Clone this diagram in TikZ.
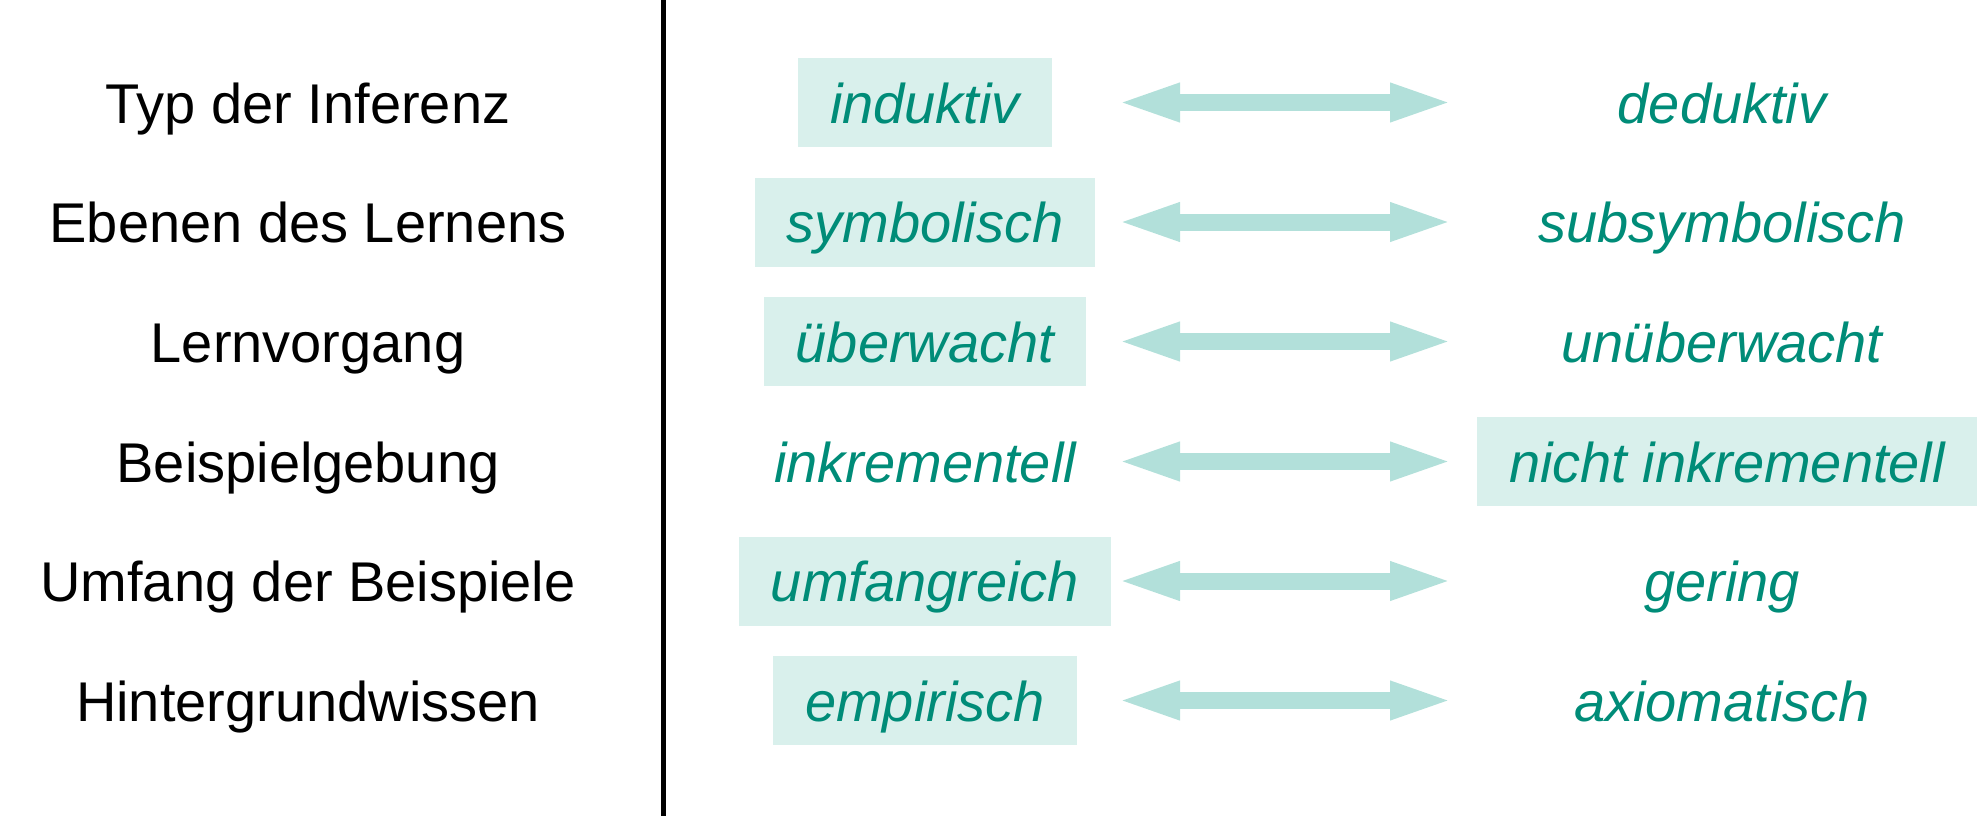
\documentclass[tikz,border=0pt]{standalone}
\usepackage{fontspec}
\setmainfont{Liberation Sans}
\usetikzlibrary{arrows.meta,positioning}
\definecolor{lernGreen}{RGB}{0, 140, 120}
\definecolor{lernBox}{RGB}{217, 240, 236}
\definecolor{lernArrow}{RGB}{178, 224, 218}

\begin{document}
\begin{tikzpicture}[x=1pt, y=-1pt,
        every node/.style={font=\fontsize{56}{67}\selectfont, text height=41pt, text depth=0pt,
            inner ysep=0pt, inner xsep=32pt, minimum height=89pt},
        kriterium/.style={text=black},
        wert/.style={text=lernGreen, font=\fontsize{56}{67}\selectfont\itshape},
        markiert/.style={wert, fill=lernBox},
        doppelpfeil/.style={draw=lernArrow, line width=17pt,
            {Triangle[length=65pt, width=34pt]}-{Triangle[length=65pt, width=34pt]}}]
    \useasboundingbox (0,0) rectangle (1984,816);
    % Trennlinie
    \coordinate (top) at (663,0);
    \coordinate (bottom) at (663,816);
    \draw[line width=5pt] (top) -- (bottom);
    % Kriterien
    \node[kriterium] (k1) at (308,102.5) {Typ der Inferenz};
    \node[kriterium] (k2) at (308,222) {Ebenen des Lernens};
    \node[kriterium] (k3) at (308,341.5) {Lernvorgang};
    \node[kriterium] (k4) at (308,461.5) {Beispielgebung};
    \node[kriterium] (k5) at (308,581) {Umfang der Beispiele};
    \node[kriterium] (k6) at (308,700.5) {Hintergrundwissen};
    % linke Werte
    \node[markiert] (l1) at (925,102.5) {induktiv};
    \node[markiert] (l2) at (925,222) {symbolisch};
    \node[markiert] (l3) at (925,341.5) {überwacht};
    \node[wert] (l4) at (925,461.5) {inkrementell};
    \node[markiert] (l5) at (925,581) {umfangreich};
    \node[markiert] (l6) at (925,700.5) {empirisch};
    % rechte Werte
    \node[wert] (r1) at (1722,102.5) {deduktiv};
    \node[wert] (r2) at (1722,222) {subsymbolisch};
    \node[wert] (r3) at (1722,341.5) {unüberwacht};
    \node[markiert] (r4) at (1727,461.5) {nicht inkrementell};
    \node[wert] (r5) at (1722,581) {gering};
    \node[wert] (r6) at (1722,700.5) {axiomatisch};
    % Pfeile
    \coordinate (a1) at (1115,102.5); \coordinate (b1) at (1455,102.5);
    \coordinate (a2) at (1115,222);   \coordinate (b2) at (1455,222);
    \coordinate (a3) at (1115,341.5); \coordinate (b3) at (1455,341.5);
    \coordinate (a4) at (1115,461.5); \coordinate (b4) at (1455,461.5);
    \coordinate (a5) at (1115,581);   \coordinate (b5) at (1455,581);
    \coordinate (a6) at (1115,700.5); \coordinate (b6) at (1455,700.5);
    \draw[doppelpfeil] (a1) -- (b1);
    \draw[doppelpfeil] (a2) -- (b2);
    \draw[doppelpfeil] (a3) -- (b3);
    \draw[doppelpfeil] (a4) -- (b4);
    \draw[doppelpfeil] (a5) -- (b5);
    \draw[doppelpfeil] (a6) -- (b6);
\end{tikzpicture}
\end{document}
